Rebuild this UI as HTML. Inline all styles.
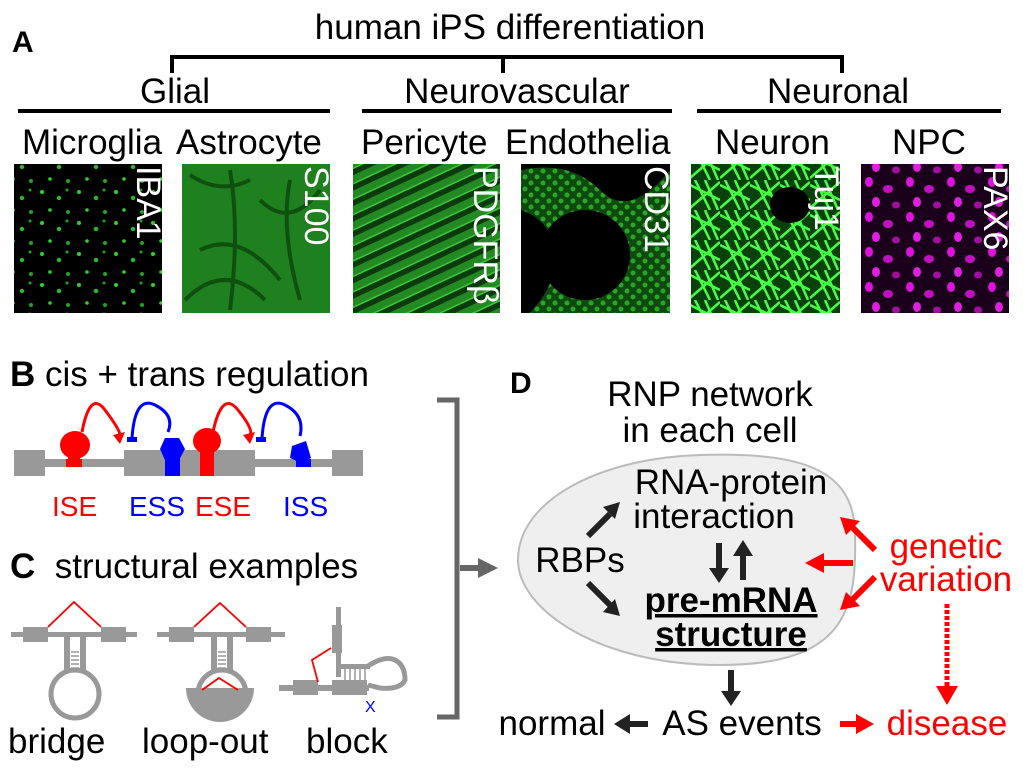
<!DOCTYPE html>
<html><head><meta charset="utf-8"><style>
html,body{margin:0;padding:0;background:#fff;}
svg{display:block;font-family:"Liberation Sans",Arial,sans-serif;}
</style></head><body>
<svg width="1023" height="771" viewBox="0 0 1023 771" xmlns="http://www.w3.org/2000/svg">
<defs>
<pattern id="mg" width="37" height="31" patternUnits="userSpaceOnUse">
<rect width="37" height="31" fill="#000"/>
<circle cx="5" cy="6" r="2" fill="#2bd42b"/><circle cx="22" cy="12" r="2.2" fill="#25c025"/>
<circle cx="13" cy="24" r="1.8" fill="#2bd42b"/><circle cx="31" cy="26" r="2" fill="#1fa51f"/>
<circle cx="30" cy="4" r="1.5" fill="#1fa51f"/></pattern>
<pattern id="npc" width="41" height="35" patternUnits="userSpaceOnUse">
<rect width="41" height="35" fill="#1a001a"/>
<ellipse cx="8" cy="7" rx="4" ry="5" fill="#e010e0"/><ellipse cx="27" cy="14" rx="5" ry="4" fill="#c010c0"/>
<ellipse cx="15" cy="27" rx="4" ry="5" fill="#e020e0"/><ellipse cx="35" cy="30" rx="4" ry="3.5" fill="#a010a0"/></pattern>
<pattern id="per" width="14" height="14" patternUnits="userSpaceOnUse" patternTransform="rotate(65)">
<rect width="14" height="14" fill="#0c3a0c"/><rect width="7" height="14" fill="#238a23"/><rect x="7" width="1.5" height="14" fill="#3ac83a"/></pattern>
<pattern id="neu" width="30" height="30" patternUnits="userSpaceOnUse">
<rect width="30" height="30" fill="#0a400a"/>
<path d="M0 5L30 20M5 0L20 30M0 28L30 2M15 0L28 30" stroke="#44ff44" stroke-width="2.5"/></pattern>
<pattern id="endo" width="12" height="12" patternUnits="userSpaceOnUse">
<rect width="12" height="12" fill="#0e4a0e"/><circle cx="3" cy="3" r="2.5" fill="#2aa52a"/><circle cx="9" cy="9" r="2.5" fill="#2aa52a"/></pattern>
</defs>

<!-- Panel A -->
<text x="12" y="52" font-size="30" font-weight="bold">A</text>
<text x="510" y="39" font-size="35" text-anchor="middle">human iPS differentiation</text>
<path d="M172 73V57H842V73M503 57V73" fill="none" stroke="#000" stroke-width="4"/>
<text x="175" y="103" font-size="35" text-anchor="middle">Glial</text>
<text x="517" y="103" font-size="35" text-anchor="middle">Neurovascular</text>
<text x="838" y="103" font-size="35" text-anchor="middle">Neuronal</text>
<path d="M18 111H330M362 111H672M697 111H1001" stroke="#000" stroke-width="4"/>
<g font-size="35">
<text x="22" y="154">Microglia</text><text x="176" y="154">Astrocyte</text>
<text x="361" y="154">Pericyte</text><text x="505" y="154">Endothelia</text>
<text x="715" y="154">Neuron</text><text x="892" y="154">NPC</text></g>
<rect x="14" y="164" width="148" height="149" fill="url(#mg)"/>
<rect x="182" y="164" width="148" height="149" fill="#1f801f"/>
<path d="M190 175q30 20 60 5M200 250q40 -20 80 30M260 200q30 30 60 -10M185 300q40-40 80 0M230 170q10 60 0 140M290 180q-10 50 10 120" stroke="#0f500f" stroke-width="4" fill="none"/>
<rect x="353" y="164" width="147" height="149" fill="url(#per)"/>
<rect x="521" y="164" width="149" height="149" fill="#000"/>
<path d="M521 170Q570 160 600 190T670 170V313H530Q560 280 555 250T521 210Z" fill="url(#endo)"/>
<ellipse cx="585" cy="255" rx="45" ry="45" fill="#000"/>
<rect x="691" y="164" width="149" height="149" fill="url(#neu)"/>
<ellipse cx="790" cy="205" rx="20" ry="18" fill="#000"/>
<rect x="861" y="164" width="148" height="149" fill="url(#npc)"/>
<g font-size="34" fill="#fff">
<text transform="translate(137,166) rotate(90)">IBA1</text>
<text transform="translate(305,166) rotate(90)">S100</text>
<text transform="translate(474,166) rotate(90)">PDGFRβ</text>
<text transform="translate(645,166) rotate(90)">CD31</text>
<text transform="translate(815,166) rotate(90)">Tuj1</text>
<text transform="translate(984,166) rotate(90)">PAX6</text></g>

<!-- Panel B -->
<text x="10" y="386" font-size="35"><tspan font-weight="bold">B</tspan> cis + trans regulation</text>
<rect x="14" y="459" width="349" height="8" fill="#999"/>
<rect x="14" y="450" width="31" height="26" fill="#999"/>
<rect x="124" y="450" width="131" height="26" fill="#999"/>
<rect x="332" y="450" width="31" height="26" fill="#999"/>
<rect x="66" y="459" width="16" height="8" fill="#f00"/>
<rect x="165" y="452" width="15" height="24" fill="#00f"/>
<rect x="200" y="452" width="14" height="24" fill="#f00"/>
<rect x="296" y="459" width="15" height="8" fill="#00f"/>
<rect x="68" y="450" width="12" height="10" fill="#f00"/>
<ellipse cx="75" cy="445" rx="15" ry="14" fill="#f00"/>
<polygon points="165,438 179,438 185,449 179,460 165,460 160,449" fill="#00f"/>
<ellipse cx="207" cy="441" rx="14" ry="13" fill="#f00"/>
<rect x="200" y="448" width="14" height="6" fill="#f00"/>
<polygon points="292,446 306,441 311,458 301,463 290,458" fill="#00f"/>
<g fill="none" stroke-width="3">
<path d="M82 432Q90 390 105 410T120 435" stroke="#f00"/>
<path d="M132 438Q135 395 155 405T168 432" stroke="#00f"/>
<path d="M213 432Q222 390 238 410T250 435" stroke="#f00"/>
<path d="M262 438Q265 395 285 405T300 436" stroke="#00f"/>
</g>
<polygon points="113,435 125,432 120,444" fill="#f00"/>
<polygon points="243,435 255,432 250,444" fill="#f00"/>
<rect x="127" y="437" width="10" height="5" fill="#00f"/>
<rect x="256" y="437" width="10" height="5" fill="#00f"/>
<g font-size="28"><text x="52" y="516" fill="#f00">ISE</text><text x="129" y="516" fill="#00f">ESS</text>
<text x="195" y="516" fill="#f00">ESE</text><text x="283" y="516" fill="#00f">ISS</text></g>

<!-- Panel C -->
<text x="10" y="578" font-size="35"><tspan font-weight="bold">C</tspan>&#160; structural examples</text>
<g fill="#999">
<rect x="11" y="632" width="126" height="5"/><rect x="23" y="627" width="25" height="15"/><rect x="101" y="627" width="25" height="15"/>
<rect x="64" y="632" width="6" height="40"/><rect x="80" y="632" width="6" height="40"/>
<circle cx="75" cy="694" r="24" fill="none" stroke="#999" stroke-width="5"/>
<rect x="157" y="632" width="128" height="5"/><rect x="169" y="627" width="25" height="15"/><rect x="246" y="627" width="25" height="15"/>
<rect x="211" y="632" width="6" height="40"/><rect x="227" y="632" width="6" height="40"/>
<circle cx="222" cy="694" r="24" fill="none" stroke="#999" stroke-width="5"/>
<path d="M186 688H254A34 34 0 0 1 186 688Z"/>
<rect x="279" y="685" width="90" height="6"/><rect x="293" y="680" width="25" height="15"/><rect x="332" y="680" width="35" height="15"/>
<rect x="336" y="607" width="5" height="70"/><rect x="332" y="625" width="10" height="28"/>
<rect x="340" y="664" width="30" height="5"/>
<path d="M368 666Q385 655 395 660T405 680Q400 690 380 688L368 685" fill="none" stroke="#999" stroke-width="5"/>
</g>
<g stroke="#999" stroke-width="1.5"><path d="M71 652H79M71 656H79M71 660H79M71 664H79M71 668H79M218 652H226M218 656H226M218 660H226M218 664H226M218 668H226M345 669V680M350 669V680M355 669V680M360 669V680M365 669V680"/></g>
<g stroke="#f00" stroke-width="1.8" fill="none">
<path d="M48 627L74 602L101 627"/><path d="M194 627L220 603L246 627"/><path d="M202 690L219 678L238 690"/>
<path d="M331 648L312 660L318 682"/></g>
<text x="365" y="712" fill="#00f" font-size="16">X</text>
<g font-size="35"><text x="8" y="753">bridge</text><text x="142" y="753">loop-out</text><text x="306" y="753">block</text></g>

<!-- bracket -->
<path d="M437 400H457V717H437" fill="none" stroke="#666" stroke-width="5"/>
<path d="M460 568H482" stroke="#666" stroke-width="6"/><polygon points="478,558 498,568 478,578" fill="#666"/>

<!-- Panel D -->
<text x="510" y="393" font-size="30" font-weight="bold">D</text>
<text x="710" y="406" font-size="35" text-anchor="middle">RNP network</text>
<text x="710" y="442" font-size="35" text-anchor="middle">in each cell</text>
<path d="M700 455C800 452 855 468 855 535C857 610 845 665 720 665C600 665 518 610 518 560C518 500 600 458 700 455Z" fill="#efefef" stroke="#bbb" stroke-width="2"/>
<g font-size="35" text-anchor="middle">
<text x="731" y="494">RNA-protein</text><text x="714" y="528">interaction</text>
<text x="580" y="572">RBPs</text>
<text x="731" y="612" font-weight="bold" text-decoration="underline">pre-mRNA</text>
<text x="731" y="646" font-weight="bold" text-decoration="underline">structure</text>
<text x="946" y="558" fill="#f00">genetic</text><text x="946" y="591" fill="#f00">variation</text>
<text x="742" y="735">AS events</text><text x="552" y="735">normal</text>
<text x="947" y="735" fill="#f00">disease</text></g>
<g fill="#222" stroke="#222">
<path d="M588 536L610 514" stroke-width="6"/><polygon points="603,507 620,502 615,519" stroke="none"/>
<path d="M588 583L610 605" stroke-width="6"/><polygon points="603,612 620,616 615,599" stroke="none"/>
<path d="M719 543V570" stroke-width="6"/><polygon points="709,568 729,568 719,583" stroke="none"/>
<path d="M743 580V553" stroke-width="6"/><polygon points="733,556 753,556 743,540" stroke="none"/>
<path d="M731 670V693" stroke-width="6"/><polygon points="721,691 741,691 731,706" stroke="none"/>
<path d="M648 724H627" stroke-width="6"/><polygon points="630,714 614,724 630,734" stroke="none"/>
</g>
<g fill="#f00" stroke="#f00">
<path d="M875 550L852 527" stroke-width="6"/><polygon points="840,517 860,521 846,535" stroke="none"/>
<path d="M853 563H822" stroke-width="6"/><polygon points="824,553 805,563 824,573" stroke="none"/>
<path d="M875 577L852 600" stroke-width="6"/><polygon points="840,610 846,592 860,606" stroke="none"/>
<path d="M947 604V688" stroke-width="5" stroke-dasharray="4,2"/><polygon points="936,686 958,686 947,705" stroke="none"/>
<path d="M840 724H858" stroke-width="6"/><polygon points="856,714 874,724 856,734" stroke="none"/>
</g>
</svg>
</body></html>
